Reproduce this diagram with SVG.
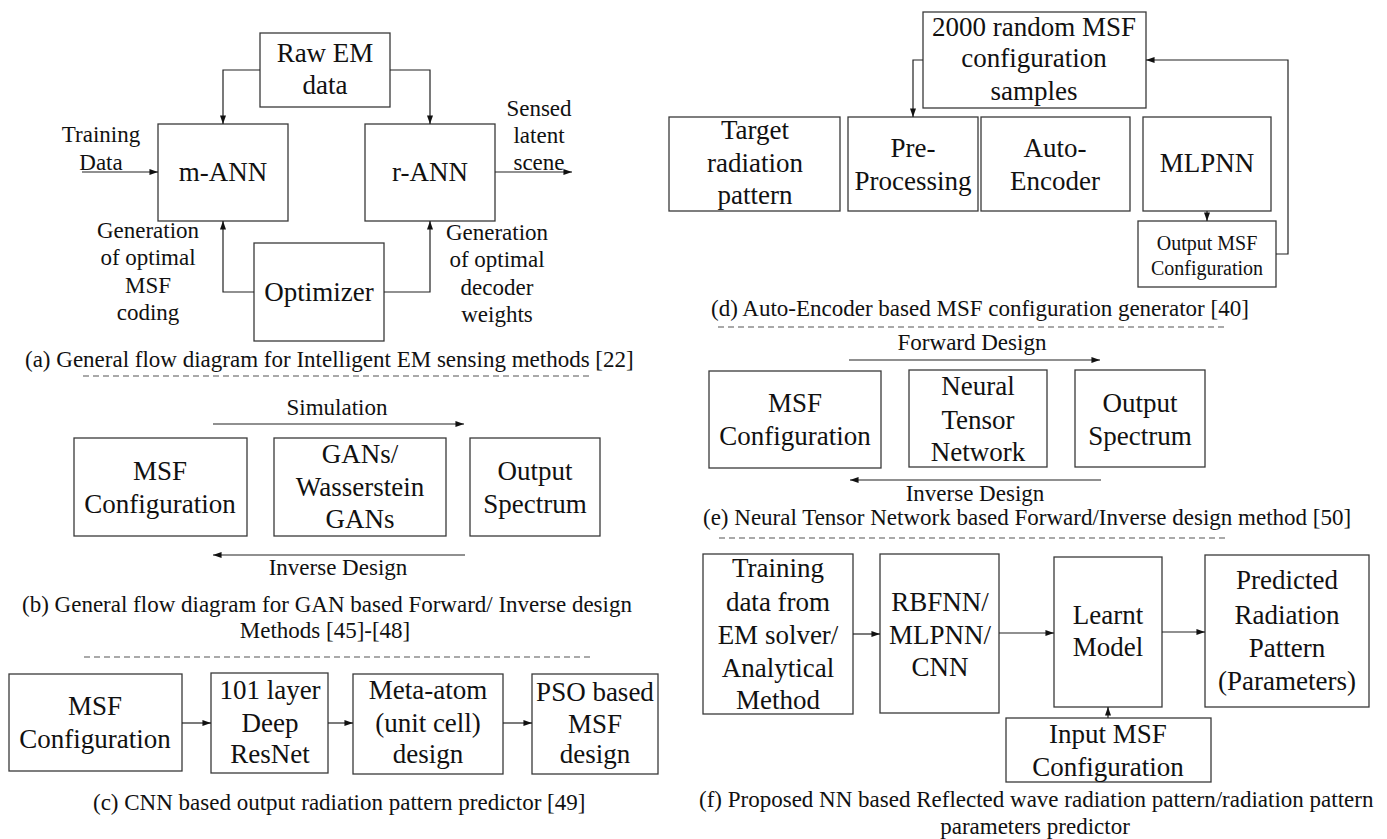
<svg xmlns="http://www.w3.org/2000/svg" width="1387" height="839" viewBox="0 0 1387 839">
<defs>
<marker id="ah" viewBox="0 0 10 7" refX="10" refY="3.5" markerWidth="9" markerHeight="6" markerUnits="userSpaceOnUse" orient="auto">
<path d="M0,0 L10,3.5 L0,7 z" fill="#111"/>
</marker>
</defs>
<rect width="1387" height="839" fill="#fff"/>

<!-- Panel (a) -->
<g id="a-raw"><rect fill="#fff" stroke="#3a3a3a" stroke-width="1.3" x="260" y="33" width="130" height="74"/><text font-family="Liberation Serif" font-size="27" text-anchor="middle" fill="#111" x="325" y="62">Raw EM</text><text font-family="Liberation Serif" font-size="27" text-anchor="middle" fill="#111" x="325" y="94">data</text></g>
<g id="a-mann"><rect fill="#fff" stroke="#3a3a3a" stroke-width="1.3" x="158" y="124" width="130" height="97"/><text font-family="Liberation Serif" font-size="27" text-anchor="middle" fill="#111" x="223" y="181">m-ANN</text></g>
<g id="a-rann"><rect fill="#fff" stroke="#3a3a3a" stroke-width="1.3" x="365" y="124" width="130" height="97"/><text font-family="Liberation Serif" font-size="27" text-anchor="middle" fill="#111" x="430" y="181">r-ANN</text></g>
<g id="a-opt"><rect fill="#fff" stroke="#3a3a3a" stroke-width="1.3" x="254" y="243" width="130" height="98"/><text font-family="Liberation Serif" font-size="27" text-anchor="middle" fill="#111" x="319" y="301">Optimizer</text></g>
<g id="a-labels">
<text font-family="Liberation Serif" font-size="23" text-anchor="middle" fill="#111" x="101" y="142">Training</text>
<text font-family="Liberation Serif" font-size="23" text-anchor="middle" fill="#111" x="101" y="170">Data</text>
<text font-family="Liberation Serif" font-size="23" text-anchor="middle" fill="#111" x="539" y="116">Sensed</text>
<text font-family="Liberation Serif" font-size="23" text-anchor="middle" fill="#111" x="539" y="143">latent</text>
<text font-family="Liberation Serif" font-size="23" text-anchor="middle" fill="#111" x="539" y="170">scene</text>
<text font-family="Liberation Serif" font-size="23" text-anchor="middle" fill="#111" x="148" y="238">Generation</text>
<text font-family="Liberation Serif" font-size="23" text-anchor="middle" fill="#111" x="148" y="265">of optimal</text>
<text font-family="Liberation Serif" font-size="23" text-anchor="middle" fill="#111" x="148" y="293">MSF</text>
<text font-family="Liberation Serif" font-size="23" text-anchor="middle" fill="#111" x="148" y="320">coding</text>
<text font-family="Liberation Serif" font-size="23" text-anchor="middle" fill="#111" x="497" y="240">Generation</text>
<text font-family="Liberation Serif" font-size="23" text-anchor="middle" fill="#111" x="497" y="267">of optimal</text>
<text font-family="Liberation Serif" font-size="23" text-anchor="middle" fill="#111" x="497" y="295">decoder</text>
<text font-family="Liberation Serif" font-size="23" text-anchor="middle" fill="#111" x="497" y="322">weights</text>
<text font-family="Liberation Serif" font-size="23" fill="#111" x="25" y="367">(a) General flow diagram for Intelligent EM sensing methods [22]</text>
</g>

<!-- Panel (b) -->
<g id="b-msf"><rect fill="#fff" stroke="#3a3a3a" stroke-width="1.3" x="74" y="438" width="173" height="98"/><text font-family="Liberation Serif" font-size="27" text-anchor="middle" fill="#111" x="160" y="480">MSF</text><text font-family="Liberation Serif" font-size="27" text-anchor="middle" fill="#111" x="160" y="513">Configuration</text></g>
<g id="b-gan"><rect fill="#fff" stroke="#3a3a3a" stroke-width="1.3" x="274" y="438" width="172" height="98"/><text font-family="Liberation Serif" font-size="27" text-anchor="middle" fill="#111" x="360" y="463">GANs/</text><text font-family="Liberation Serif" font-size="27" text-anchor="middle" fill="#111" x="360" y="496">Wasserstein</text><text font-family="Liberation Serif" font-size="27" text-anchor="middle" fill="#111" x="360" y="528">GANs</text></g>
<g id="b-out"><rect fill="#fff" stroke="#3a3a3a" stroke-width="1.3" x="470" y="438" width="130" height="98"/><text font-family="Liberation Serif" font-size="27" text-anchor="middle" fill="#111" x="535" y="480">Output</text><text font-family="Liberation Serif" font-size="27" text-anchor="middle" fill="#111" x="535" y="513">Spectrum</text></g>
<g id="b-labels">
<text font-family="Liberation Serif" font-size="23" text-anchor="middle" fill="#111" x="337" y="415">Simulation</text>
<text font-family="Liberation Serif" font-size="23" text-anchor="middle" fill="#111" x="338" y="575">Inverse Design</text>
<text font-family="Liberation Serif" font-size="23" fill="#111" x="22" y="612">(b) General flow diagram for GAN based Forward/ Inverse design</text>
<text font-family="Liberation Serif" font-size="23" text-anchor="middle" fill="#111" x="325" y="638">Methods [45]-[48]</text>
</g>

<!-- Panel (c) -->
<g id="c-msf"><rect fill="#fff" stroke="#3a3a3a" stroke-width="1.3" x="9" y="674" width="173" height="97"/><text font-family="Liberation Serif" font-size="27" text-anchor="middle" fill="#111" x="95" y="715">MSF</text><text font-family="Liberation Serif" font-size="27" text-anchor="middle" fill="#111" x="95" y="748">Configuration</text></g>
<g id="c-resnet"><rect fill="#fff" stroke="#3a3a3a" stroke-width="1.3" x="211" y="673" width="117" height="100"/><text font-family="Liberation Serif" font-size="27" text-anchor="middle" fill="#111" x="270" y="699">101 layer</text><text font-family="Liberation Serif" font-size="27" text-anchor="middle" fill="#111" x="270" y="732">Deep</text><text font-family="Liberation Serif" font-size="27" text-anchor="middle" fill="#111" x="270" y="763">ResNet</text></g>
<g id="c-meta"><rect fill="#fff" stroke="#3a3a3a" stroke-width="1.3" x="353" y="674" width="150" height="100"/><text font-family="Liberation Serif" font-size="27" text-anchor="middle" fill="#111" x="428" y="699">Meta-atom</text><text font-family="Liberation Serif" font-size="27" text-anchor="middle" fill="#111" x="428" y="732">(unit cell)</text><text font-family="Liberation Serif" font-size="27" text-anchor="middle" fill="#111" x="428" y="763">design</text></g>
<g id="c-pso"><rect fill="#fff" stroke="#3a3a3a" stroke-width="1.3" x="532" y="674" width="126" height="100"/><text font-family="Liberation Serif" font-size="27" text-anchor="middle" fill="#111" x="595" y="701">PSO based</text><text font-family="Liberation Serif" font-size="27" text-anchor="middle" fill="#111" x="595" y="733">MSF</text><text font-family="Liberation Serif" font-size="27" text-anchor="middle" fill="#111" x="595" y="763">design</text></g>
<g id="c-caption"><text font-family="Liberation Serif" font-size="23" fill="#111" x="93" y="810">(c) CNN based output radiation pattern predictor [49]</text></g>

<!-- Panel (d) -->
<g id="d-samples"><rect fill="#fff" stroke="#3a3a3a" stroke-width="1.3" x="923" y="12" width="223" height="96"/><text font-family="Liberation Serif" font-size="27" text-anchor="middle" fill="#111" x="1034" y="36">2000 random MSF</text><text font-family="Liberation Serif" font-size="27" text-anchor="middle" fill="#111" x="1034" y="67">configuration</text><text font-family="Liberation Serif" font-size="27" text-anchor="middle" fill="#111" x="1034" y="100">samples</text></g>
<g id="d-target"><rect fill="#fff" stroke="#3a3a3a" stroke-width="1.3" x="669" y="117" width="171" height="94"/><text font-family="Liberation Serif" font-size="27" text-anchor="middle" fill="#111" x="755" y="139">Target</text><text font-family="Liberation Serif" font-size="27" text-anchor="middle" fill="#111" x="755" y="172">radiation</text><text font-family="Liberation Serif" font-size="27" text-anchor="middle" fill="#111" x="755" y="204">pattern</text></g>
<g id="d-pre"><rect fill="#fff" stroke="#3a3a3a" stroke-width="1.3" x="848" y="117" width="130" height="94"/><text font-family="Liberation Serif" font-size="27" text-anchor="middle" fill="#111" x="913" y="157">Pre-</text><text font-family="Liberation Serif" font-size="27" text-anchor="middle" fill="#111" x="913" y="190">Processing</text></g>
<g id="d-ae"><rect fill="#fff" stroke="#3a3a3a" stroke-width="1.3" x="981" y="117" width="149" height="94"/><text font-family="Liberation Serif" font-size="27" text-anchor="middle" fill="#111" x="1055" y="157">Auto-</text><text font-family="Liberation Serif" font-size="27" text-anchor="middle" fill="#111" x="1055" y="190">Encoder</text></g>
<g id="d-mlp"><rect fill="#fff" stroke="#3a3a3a" stroke-width="1.3" x="1143" y="117" width="128" height="94"/><text font-family="Liberation Serif" font-size="27" text-anchor="middle" fill="#111" x="1207" y="172">MLPNN</text></g>
<g id="d-out"><rect fill="#fff" stroke="#3a3a3a" stroke-width="1.3" x="1138" y="221" width="138" height="66"/><text font-family="Liberation Serif" font-size="20" text-anchor="middle" fill="#111" x="1207" y="250">Output MSF</text><text font-family="Liberation Serif" font-size="20" text-anchor="middle" fill="#111" x="1207" y="275">Configuration</text></g>
<g id="d-caption"><text font-family="Liberation Serif" font-size="23" fill="#111" x="711" y="316">(d) Auto-Encoder based MSF configuration generator [40]</text></g>

<!-- Panel (e) -->
<g id="e-msf"><rect fill="#fff" stroke="#3a3a3a" stroke-width="1.3" x="709" y="371" width="172" height="97"/><text font-family="Liberation Serif" font-size="27" text-anchor="middle" fill="#111" x="795" y="412">MSF</text><text font-family="Liberation Serif" font-size="27" text-anchor="middle" fill="#111" x="795" y="445">Configuration</text></g>
<g id="e-ntn"><rect fill="#fff" stroke="#3a3a3a" stroke-width="1.3" x="909" y="370" width="138" height="97"/><text font-family="Liberation Serif" font-size="27" text-anchor="middle" fill="#111" x="978" y="395">Neural</text><text font-family="Liberation Serif" font-size="27" text-anchor="middle" fill="#111" x="978" y="429">Tensor</text><text font-family="Liberation Serif" font-size="27" text-anchor="middle" fill="#111" x="978" y="461">Network</text></g>
<g id="e-out"><rect fill="#fff" stroke="#3a3a3a" stroke-width="1.3" x="1075" y="370" width="130" height="97"/><text font-family="Liberation Serif" font-size="27" text-anchor="middle" fill="#111" x="1140" y="412">Output</text><text font-family="Liberation Serif" font-size="27" text-anchor="middle" fill="#111" x="1140" y="445">Spectrum</text></g>
<g id="e-labels">
<text font-family="Liberation Serif" font-size="23" text-anchor="middle" fill="#111" x="972" y="350">Forward Design</text>
<text font-family="Liberation Serif" font-size="23" text-anchor="middle" fill="#111" x="975" y="501">Inverse Design</text>
<text font-family="Liberation Serif" font-size="23" fill="#111" x="703" y="525">(e) Neural Tensor Network based Forward/Inverse design method [50]</text>
</g>

<!-- Panel (f) -->
<g id="f-train"><rect fill="#fff" stroke="#3a3a3a" stroke-width="1.3" x="703" y="554" width="150" height="160"/><text font-family="Liberation Serif" font-size="27" text-anchor="middle" fill="#111" x="778" y="577">Training</text><text font-family="Liberation Serif" font-size="27" text-anchor="middle" fill="#111" x="778" y="611">data from</text><text font-family="Liberation Serif" font-size="27" text-anchor="middle" fill="#111" x="778" y="644">EM solver/</text><text font-family="Liberation Serif" font-size="27" text-anchor="middle" fill="#111" x="778" y="677">Analytical</text><text font-family="Liberation Serif" font-size="27" text-anchor="middle" fill="#111" x="778" y="709">Method</text></g>
<g id="f-nn"><rect fill="#fff" stroke="#3a3a3a" stroke-width="1.3" x="880" y="554" width="119" height="159"/><text font-family="Liberation Serif" font-size="27" text-anchor="middle" fill="#111" x="940" y="611">RBFNN/</text><text font-family="Liberation Serif" font-size="27" text-anchor="middle" fill="#111" x="940" y="644">MLPNN/</text><text font-family="Liberation Serif" font-size="27" text-anchor="middle" fill="#111" x="940" y="676">CNN</text></g>
<g id="f-learnt"><rect fill="#fff" stroke="#3a3a3a" stroke-width="1.3" x="1054" y="557" width="108" height="150"/><text font-family="Liberation Serif" font-size="27" text-anchor="middle" fill="#111" x="1108" y="624">Learnt</text><text font-family="Liberation Serif" font-size="27" text-anchor="middle" fill="#111" x="1108" y="656">Model</text></g>
<g id="f-pred"><rect fill="#fff" stroke="#3a3a3a" stroke-width="1.3" x="1205" y="555" width="164" height="152"/><text font-family="Liberation Serif" font-size="27" text-anchor="middle" fill="#111" x="1287" y="589">Predicted</text><text font-family="Liberation Serif" font-size="27" text-anchor="middle" fill="#111" x="1287" y="624">Radiation</text><text font-family="Liberation Serif" font-size="27" text-anchor="middle" fill="#111" x="1287" y="657">Pattern</text><text font-family="Liberation Serif" font-size="27" text-anchor="middle" fill="#111" x="1287" y="690">(Parameters)</text></g>
<g id="f-input"><rect fill="#fff" stroke="#3a3a3a" stroke-width="1.3" x="1006" y="718" width="205" height="64"/><text font-family="Liberation Serif" font-size="27" text-anchor="middle" fill="#111" x="1108" y="743">Input MSF</text><text font-family="Liberation Serif" font-size="27" text-anchor="middle" fill="#111" x="1108" y="776">Configuration</text></g>
<g id="f-caption">
<text font-family="Liberation Serif" font-size="23" fill="#111" x="699" y="807">(f) Proposed NN based Reflected wave radiation pattern/radiation pattern</text>
<text font-family="Liberation Serif" font-size="23" text-anchor="middle" fill="#111" x="1035" y="834">parameters predictor</text>
</g>

<!-- Connectors -->
<g id="connectors" fill="none" stroke="#222" stroke-width="1.2">
<path marker-end="url(#ah)" d="M260,70 H223 V124"/>
<path marker-end="url(#ah)" d="M390,70 H430 V124"/>
<path marker-end="url(#ah)" d="M82,172 H158"/>
<path marker-end="url(#ah)" d="M495,172 H572"/>
<path marker-end="url(#ah)" d="M254,292 H223 V221"/>
<path marker-end="url(#ah)" d="M384,292 H430 V221"/>
<path marker-end="url(#ah)" d="M213,424 H464"/>
<path marker-end="url(#ah)" d="M465,555 H213"/>
<path marker-end="url(#ah)" d="M182,723 H211"/>
<path marker-end="url(#ah)" d="M328,723 H353"/>
<path marker-end="url(#ah)" d="M503,723 H532"/>
<path marker-end="url(#ah)" d="M923,60 H913 V117"/>
<path marker-end="url(#ah)" d="M1207,211 V221"/>
<path marker-end="url(#ah)" d="M1276,254 H1288 V60 H1146"/>
<path marker-end="url(#ah)" d="M849,360 H1100"/>
<path marker-end="url(#ah)" d="M1101,480 H850"/>
<path marker-end="url(#ah)" d="M853,634 H880"/>
<path marker-end="url(#ah)" d="M999,633 H1054"/>
<path marker-end="url(#ah)" d="M1162,632 H1205"/>
<path marker-end="url(#ah)" d="M1108,718 V707"/>
</g>

<!-- Separators -->
<g id="separators" fill="none" stroke="#555" stroke-width="1.2" stroke-dasharray="6 4">
<path d="M83,376 H590"/>
<path d="M84,657 H592"/>
<path d="M718,327 H1227"/>
<path d="M719,538 H1227"/>
</g>
</svg>
